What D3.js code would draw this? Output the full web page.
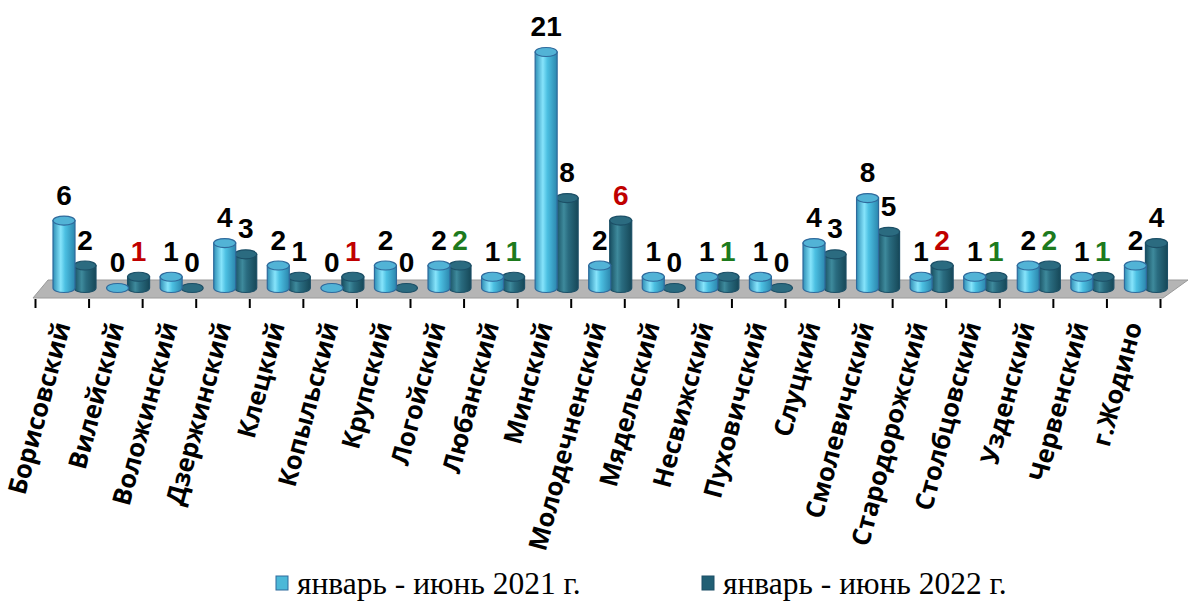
<!DOCTYPE html>
<html>
<head>
<meta charset="utf-8">
<script src="https://cdn.jsdelivr.net/npm/d3@7"></script>
<style>
    body { margin: 0; background: #fff; }
    svg { display: block; }
</style>
</head>
<body>
<div id="chart"></div>
<script>
// data
var districts = ["Борисовский", "Вилейский", "Воложинский", "Дзержинский", "Клецкий",
    "Копыльский", "Крупский", "Логойский", "Любанский", "Минский", "Молодечненский",
    "Мядельский", "Несвижский", "Пуховичский", "Слуцкий", "Смолевичский",
    "Стародорожский", "Столбцовский", "Узденский", "Червенский", "г.Жодино"];
var values2021 = [6, 0, 1, 4, 2, 0, 2, 2, 1, 21, 2, 1, 1, 1, 4, 8, 1, 1, 2, 1, 2];
var values2022 = [2, 1, 0, 3, 1, 1, 0, 2, 1, 8, 6, 0, 1, 0, 3, 5, 2, 1, 2, 1, 4];
// how the 2022 label is marked in the source: "up" (red), "same" (green), "" (black)
var mark2022 = ["", "up", "", "", "", "up", "", "same", "same", "", "up",
    "", "same", "", "", "", "up", "same", "same", "same", ""];
var seriesNames = ["январь - июнь 2021 г.", "январь - июнь 2022 г."];

var width = 1192, height = 603;
var svg = d3.select("#chart").append("svg")
    .attr("width", width)
    .attr("height", height);

var defs = svg.append("defs");

function addGradient(id, stops) {
    var g = defs.append("linearGradient").attr("id", id)
        .attr("x1", "0%").attr("x2", "100%").attr("y1", "0%").attr("y2", "0%");
    stops.forEach(function (s) {
        g.append("stop").attr("offset", s[0]).attr("stop-color", s[1]);
    });
}
addGradient("body2021", [["0%", "#2f8fb6"], ["35%", "#86e4fb"], ["55%", "#4cc0e2"], ["100%", "#2b86ad"]]);
addGradient("body2022", [["0%", "#174e60"], ["35%", "#3e8a9c"], ["55%", "#2a6c80"], ["100%", "#164858"]]);

var x = d3.scaleBand().domain(d3.range(districts.length)).range([35, 1160]).padding(0);
var y = d3.scaleLinear().domain([0, 21]).range([288, 52]);
var xTicks = d3.scaleLinear().domain([0, districts.length]).range([35, 1160]);

// floor
svg.append("polygon")
    .attr("points", [[33, 298], [1163, 298], [1188, 280], [48, 280]].join(" "))
    .attr("fill", "#b5b5b5")
    .attr("stroke", "#9a9a9a")
    .attr("stroke-width", 1);

// axis ticks at the category borders
var axis = d3.axisBottom(xTicks)
    .tickValues(d3.range(districts.length + 1))
    .tickFormat("")
    .tickSize(9)
    .tickSizeOuter(0);
svg.append("g")
    .attr("transform", "translate(0,299)")
    .call(axis)
    .call(function (g) { g.select(".domain").remove(); })
    .selectAll("line")
    .attr("stroke", "#000")
    .attr("stroke-width", 2);

var barW = 22, ry = 4.5;
var series = [
    { name: "2022", values: values2022, offset: 50, body: "url(#body2022)", top: "#2b6b80", edge: "#1c4f66" },
    { name: "2021", values: values2021, offset: 29, body: "url(#body2021)", top: "#52b3d6", edge: "#2f6a9c" }
];

var bars = svg.append("g").attr("id", "bars");
districts.forEach(function (d, i) {
    series.forEach(function (s) {
        var v = s.values[i];
        var cx = x(i) + s.offset;
        var yTop = y(v), yBase = y(0);
        var g = bars.append("g");
        if (v > 0) {
            g.append("path")
                .attr("d", "M" + (cx - barW / 2) + "," + yTop +
                    " L" + (cx - barW / 2) + "," + yBase +
                    " A" + (barW / 2) + "," + ry + " 0 0 0 " + (cx + barW / 2) + "," + yBase +
                    " L" + (cx + barW / 2) + "," + yTop + " Z")
                .attr("fill", s.body)
                .attr("stroke", s.edge)
                .attr("stroke-width", 1.2);
        }
        g.append("ellipse")
            .attr("cx", cx)
            .attr("cy", yTop)
            .attr("rx", barW / 2)
            .attr("ry", ry)
            .attr("fill", s.top)
            .attr("stroke", s.edge)
            .attr("stroke-width", 1.2);
    });
});

// value labels
var labelColor = { "up": "#c00000", "same": "#1d7a1d", "": "#000" };
var labels = svg.append("g").attr("id", "labels")
    .attr("font-family", "Liberation Sans, Arial, sans-serif")
    .attr("font-weight", "bold")
    .attr("font-size", 28)
    .attr("text-anchor", "middle");
labels.selectAll("text.v21").data(values2021).enter()
    .append("text")
    .attr("x", function (d, i) { return x(i) + 29; })
    .attr("y", function (d) { return y(d) - 16; })
    .attr("fill", "#000")
    .text(function (d) { return d; });
labels.selectAll("text.v22").data(values2022).enter()
    .append("text")
    .attr("x", function (d, i) { return x(i) + 50; })
    .attr("y", function (d) { return y(d) - 16; })
    .attr("fill", function (d, i) { return labelColor[mark2022[i]]; })
    .text(function (d) { return d; });

// category labels
svg.append("g").attr("id", "categories")
    .selectAll("text").data(districts).enter()
    .append("text")
    .attr("transform", function (d, i) {
        return "translate(" + (x(i) + x.bandwidth() / 2 + 9) + ",325) rotate(-75)";
    })
    .attr("text-anchor", "end")
    .attr("font-family", "Open Sans, sans-serif")
    .attr("font-weight", "bold")
    .attr("font-size", 25.5)
    .attr("fill", "#000")
    .text(function (d) { return d; });

// legend
var legend = svg.append("g").attr("id", "legend")
    .attr("font-family", "Liberation Serif, Times New Roman, serif")
    .attr("font-size", 31.5);
var legendX = [276, 702];
var legendFill = ["#4cb8d8", "#215f74"];
var legendEdge = ["#2f6a9c", "#1c4f66"];
seriesNames.forEach(function (name, i) {
    legend.append("rect")
        .attr("x", legendX[i])
        .attr("y", 576)
        .attr("width", 12)
        .attr("height", 14)
        .attr("fill", legendFill[i])
        .attr("stroke", legendEdge[i])
        .attr("stroke-width", 1);
    legend.append("text")
        .attr("x", legendX[i] + 21)
        .attr("y", 594)
        .attr("fill", "#000")
        .text(name);
});
</script>
</body>
</html>
